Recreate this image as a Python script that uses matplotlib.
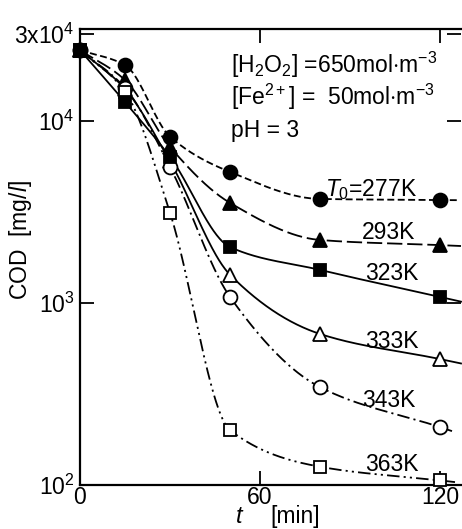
import numpy as np
import matplotlib
matplotlib.use("Agg")
import matplotlib.pyplot as plt

plt.rcParams['font.family'] = ['Liberation Sans', 'DejaVu Sans']
plt.rcParams['mathtext.fontset'] = 'custom'
plt.rcParams['mathtext.rm'] = 'Liberation Sans'
plt.rcParams['mathtext.it'] = 'Liberation Sans:italic'
plt.rcParams['lines.scale_dashes'] = False

# ---- data (time in min, COD in mg/l) ----
time = [0, 15, 30, 50, 80, 120]
cod_277 = [24500, 20300, 8200, 5250, 3730, 3680]
cod_293 = [24500, 16800, 7200, 3550, 2220, 2080]
cod_323 = [24500, 12700, 6350, 2030, 1520, 1080]
cod_333 = [24500, 15000, 6000, 1430, 676, 492]
cod_343 = [24500, 15200, 5600, 1080, 345, 208]
cod_363 = [24500, 14500, 3130, 200, 126, 106]

series_labels = ["$\\mathit{T_0}$=277K", "293K", "323K", "333K", "343K", "363K"]
label_t = [97, 103, 104, 104, 103, 104]
label_c = [4180, 2450, 1460, 611, 293, 129]

x_ticks = [0, 60, 120]
x_ticklabels = ["0", "60", "120"]
y_ticks = [100, 1000, 10000, 30000]
y_ticklabels = ["$\\mathregular{10^2}$", "$\\mathregular{10^3}$", "$\\mathregular{10^4}$", "$\\mathregular{3x10^4}$"]


def pchip_log(x, y, xn):
    """Monotone cubic (PCHIP) through (x, log10 y), linear extension past the end."""
    x = np.asarray(x, float)
    y = np.log10(np.asarray(y, float))
    h = np.diff(x)
    d = np.diff(y) / h
    m = np.zeros_like(y)
    m[0] = d[0]
    m[-1] = d[-1]
    for k in range(1, len(x) - 1):
        if d[k - 1] * d[k] <= 0:
            m[k] = 0
        else:
            w1 = 2 * h[k] + h[k - 1]
            w2 = h[k] + 2 * h[k - 1]
            m[k] = (w1 + w2) / (w1 / d[k - 1] + w2 / d[k])
    out = np.empty_like(xn)
    for i, xv in enumerate(xn):
        if xv >= x[-1]:
            out[i] = y[-1] + m[-1] * (xv - x[-1])
            continue
        k = min(np.searchsorted(x, xv, side='right') - 1, len(x) - 2)
        t = (xv - x[k]) / h[k]
        h00 = 2 * t**3 - 3 * t**2 + 1
        h10 = t**3 - 2 * t**2 + t
        h01 = -2 * t**3 + 3 * t**2
        h11 = t**3 - t**2
        out[i] = h00 * y[k] + h10 * h[k] * m[k] + h01 * y[k + 1] + h11 * h[k] * m[k + 1]
    return 10 ** out


W, H = 462, 529
fig = plt.figure(figsize=(W / 100, H / 100), dpi=100)
ax = fig.add_axes([80 / W, (H - 485) / H, 381 / W, 456 / H])
ax.set_yscale('log')
ax.set_xlim(0, 127)
ax.set_ylim(100, 10 ** (2 + 456 / 182))

styles = [
    dict(series=cod_277, marker='o', mfc='black', ls=(0, (5, 2.5)), end=126),
    dict(series=cod_293, marker='^', mfc='black', ls=(0, (11, 3.5)), end=127),
    dict(series=cod_333, marker='^', mfc='white', ls='-', end=127),
    dict(series=cod_343, marker='o', mfc='white', ls=(0, (9, 3, 1.5, 3)), end=124),
    dict(series=cod_363, marker='s', mfc='white', ls=(0, (9, 3, 1.5, 3, 1.5, 3)), end=125),
    dict(series=cod_323, marker='s', mfc='black', ls='-', end=127),
]

for st in styles:
    tt = np.linspace(0, st['end'], 500)
    cc = pchip_log(time, st['series'], tt)
    ax.plot(tt, cc, color='black', lw=1.3, ls=st['ls'], zorder=2, clip_on=False)
    ms = 10 if st['marker'] == 'o' else (9.5 if st['marker'] == '^' else 9)
    ax.plot(time, st['series'], ls='none', marker=st['marker'], ms=ms,
            mfc=st['mfc'], mec='black', mew=1.3, zorder=3, clip_on=False)

for lab, tx, cy in zip(series_labels, label_t, label_c):
    ax.text(tx, cy, lab, ha='center', va='center', fontsize=16.5)

ax.text(50.3, 2.03e4, "[H$_\\mathregular{2}$O$_\\mathregular{2}$] =650mol$\\cdot$m$^\\mathregular{-3}$",
        ha='left', va='center', fontsize=16.5)
ax.text(50.3, 1.36e4, "[Fe$^\\mathregular{2+}$] =  50mol$\\cdot$m$^\\mathregular{-3}$",
        ha='left', va='center', fontsize=16.5)
ax.text(50.3, 8.9e3, "pH = 3", ha='left', va='center', fontsize=16.5)

ax.set_xticks(x_ticks)
ax.set_xticklabels(x_ticklabels, fontsize=16.5)
ax.set_yticks(y_ticks)
ax.set_yticklabels(y_ticklabels, fontsize=16.5)
ax.minorticks_off()
ax.tick_params(direction='in', length=10, width=1.3, top=True, right=True)
ax.tick_params(axis='x', pad=1)
ax.tick_params(axis='y', pad=4)
for side in ['left', 'bottom', 'top']:
    ax.spines[side].set_linewidth(1.6)
ax.spines['right'].set_visible(False)

fig.text(20 / W, 1 - 240 / H, "COD  [mg/$\\mathit{l}$]", rotation=90, ha='center', va='center', fontsize=16.5)
fig.text(240 / W, 1 - 523 / H, "$\\mathit{t}$", ha='center', va='baseline', fontsize=17)
fig.text(270 / W, 1 - 523 / H, "[min]", ha='left', va='baseline', fontsize=16.5)

fig.savefig("out.png", dpi=100)
